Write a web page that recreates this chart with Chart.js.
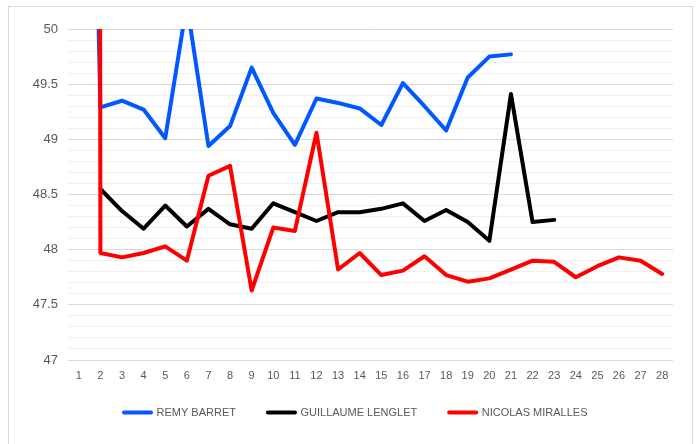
<!DOCTYPE html>
<html>
<head>
<meta charset="utf-8">
<script src="https://cdn.jsdelivr.net/npm/chart.js@4/dist/chart.umd.min.js"></script>
<style>
html,body{margin:0;padding:0;background:#fff;}
#wrap{position:relative;width:698px;height:444px;overflow:hidden;}
#frame{position:absolute;left:8px;top:6px;width:685px;height:470px;border:1px solid #d9d9d9;box-sizing:border-box;}
canvas{position:absolute;left:0;top:0;}
</style>
</head>
<body>
<div id="wrap"><div id="frame"></div><canvas id="c" width="698" height="444"></canvas></div>
<script>
// ---- data ----
const categories = ['1','2','3','4','5','6','7','8','9','10','11','12','13','14','15','16','17','18','19','20','21','22','23','24','25','26','27','28'];
const seriesNames = ['REMY BARRET', 'GUILLAUME LENGLET', 'NICOLAS MIRALLES'];
const remyBarret = [58, 49.29, 49.35, 49.27, 49.01, 50.23, 48.94, 49.12, 49.65, 49.24, 48.95, 49.37, 49.33, 49.28, 49.13, 49.51, 49.30, 49.08, 49.56, 49.75, 49.77, null, null, null, null, null, null, null];
const guillaumeLenglet = [null, 48.55, 48.35, 48.19, 48.40, 48.21, 48.37, 48.23, 48.19, 48.42, 48.34, 48.26, 48.34, 48.34, 48.37, 48.42, 48.26, 48.36, 48.25, 48.08, 49.41, 48.25, 48.27, null, null, null, null, null];
const nicolasMiralles = [200, 47.97, 47.93, 47.97, 48.03, 47.90, 48.67, 48.76, 47.63, 48.20, 48.17, 49.06, 47.82, 47.97, 47.77, 47.81, 47.94, 47.77, 47.71, 47.74, 47.82, 47.90, 47.89, 47.75, 47.85, 47.93, 47.90, 47.78];
const yTickLabels = ['47', '47.5', '48', '48.5', '49', '49.5', '50'];
const seriesColors = ['#0059FF', '#000000', '#FF0000'];

const TEXT = '#595959';
const FONT = "'Liberation Sans', Arial, sans-serif";

// place the legend row where the reference has it
const legendAnchor = {
  id: 'legendAnchor',
  afterLayout(chart) {
    const lg = chart.legend;
    if (!lg) return;
    const left = 92, top = 375;
    const dx = left - lg.left, dy = top - lg.top;
    lg.left += dx; lg.right += dx;
    lg.top += dy; lg.bottom += dy;
  }
};

const seriesData = [remyBarret, guillaumeLenglet, nicolasMiralles];
const datasets = seriesData.map((d, i) => ({
  label: seriesNames[i],
  data: d,
  borderColor: seriesColors[i],
  backgroundColor: seriesColors[i],
  borderWidth: 4,
  pointRadius: 0,
  pointHoverRadius: 0,
  tension: 0,
  borderCapStyle: 'round',
  borderJoinStyle: 'round',
  order: 3 - i
}));

new Chart(document.getElementById('c'), {
  type: 'line',
  data: { labels: categories, datasets },
  options: {
    responsive: false,
    animation: false,
    layout: { padding: { top: 29, right: 25, bottom: 5, left: 0 } },
    plugins: {
      tooltip: { enabled: false },
      legend: {
        position: 'bottom',
        align: 'start',
        labels: {
          usePointStyle: true,
          pointStyle: 'line',
          pointStyleWidth: 27,
          padding: 32,
          color: TEXT,
          font: { family: FONT, size: 11 },
          sort: (a, b) => a.datasetIndex - b.datasetIndex,
          generateLabels: (chart) => Chart.defaults.plugins.legend.labels.generateLabels(chart).map(it => Object.assign(it, { lineCap: 'round', lineWidth: 4 }))
        }
      }
    },
    scales: {
      x: {
        offset: true,
        grid: { display: false, drawTicks: false },
        border: { display: false },
        ticks: { color: TEXT, font: { family: FONT, size: 11 }, padding: 9, maxRotation: 0, autoSkip: false },
        afterFit: (s) => { s.height = 26; }
      },
      y: {
        min: 47,
        max: 50,
        border: { display: false },
        grid: {
          drawTicks: false,
          color: (ctx) => {
            const v = ctx.tick ? ctx.tick.value : 0;
            const major = Math.abs(v * 2 - Math.round(v * 2)) < 1e-6;
            return major ? '#d9d9d9' : '#f0f0f0';
          }
        },
        ticks: {
          stepSize: 0.1,
          autoSkip: false,
          padding: 10,
          color: TEXT,
          font: { family: FONT, size: 13 },
          callback: (v) => {
            const idx = Math.round((v - 47) * 2);
            if (Math.abs((v - 47) * 2 - idx) > 1e-6) return '';
            return yTickLabels[idx] !== undefined ? yTickLabels[idx] : '';
          }
        },
        afterFit: (s) => { s.width = 68; }
      }
    }
  },
  plugins: [legendAnchor]
});
</script>
</body>
</html>
